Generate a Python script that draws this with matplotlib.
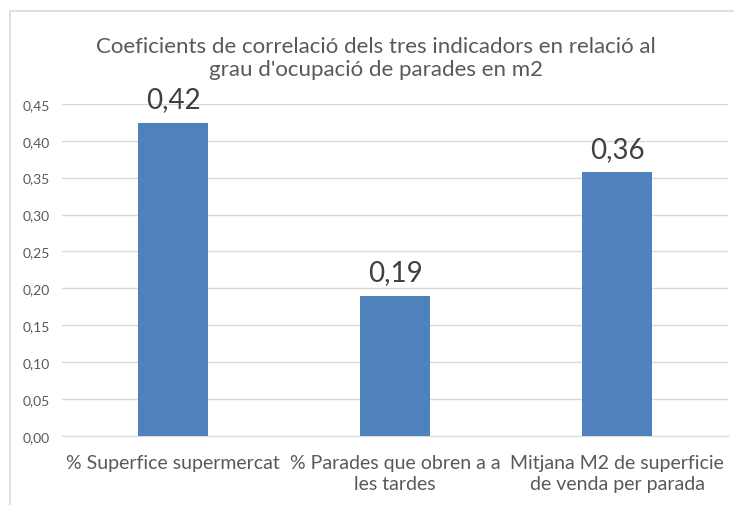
import matplotlib.pyplot as plt
import matplotlib

plt.rcParams['font.family'] = ['Lato', 'DejaVu Sans']

categories = ['% Superfice supermercat', '% Parades que obren a a\nles tardes',
              'Mitjana M2 de superficie\nde venda per parada']
values = [0.424, 0.19, 0.357]
labels = ['0,42', '0,19', '0,36']
yticks = [0.0, 0.05, 0.10, 0.15, 0.20, 0.25, 0.30, 0.35, 0.40, 0.45]
title = "Coeficients de correlació dels tres indicadors en relació al\ngrau d'ocupació de parades en m2"

grey = '#595959'

fig = plt.figure(figsize=(7.34, 5.06), dpi=100)
ax = fig.add_axes([0.0845, 0.136, 0.9075, 0.657])

x = range(len(categories))
bars = ax.bar(x, values, width=0.315, color='#4F81BD', zorder=3)
for b, lab in zip(bars, labels):
    ax.text(b.get_x() + b.get_width() / 2, b.get_height() + 0.021, lab,
            ha='center', va='baseline', fontsize=20, color='#404040')

ax.set_xlim(-0.5, 2.5)
ax.set_ylim(0, 0.45)
ax.set_yticks(yticks)
ax.set_yticklabels(['{:.2f}'.format(v).replace('.', ',') for v in yticks])
ax.set_xticks(list(x))
ax.set_xticklabels(categories, fontsize=14, color=grey, linespacing=1.3)
ax.tick_params(axis='y', length=0, labelsize=10, colors=grey, pad=9)
ax.tick_params(axis='x', length=0, pad=13)
ax.grid(axis='y', color='#D9D9D9', lw=1, zorder=0)
for s in ['top', 'right', 'left']:
    ax.spines[s].set_visible(False)
ax.spines['bottom'].set_color('#D9D9D9')

fig.text(0.512, 0.884, title, ha='center', va='center', fontsize=16,
         color=grey, linespacing=1.2)

# chart frame (left and top edges visible)
fig.add_artist(matplotlib.lines.Line2D([10 / 734, 10 / 734, 1.0],
                                       [0.0, 1 - 12 / 506, 1 - 12 / 506],
                                       color='#D9D9D9', lw=1.2,
                                       transform=fig.transFigure))

fig.savefig('out.png', dpi=100)
